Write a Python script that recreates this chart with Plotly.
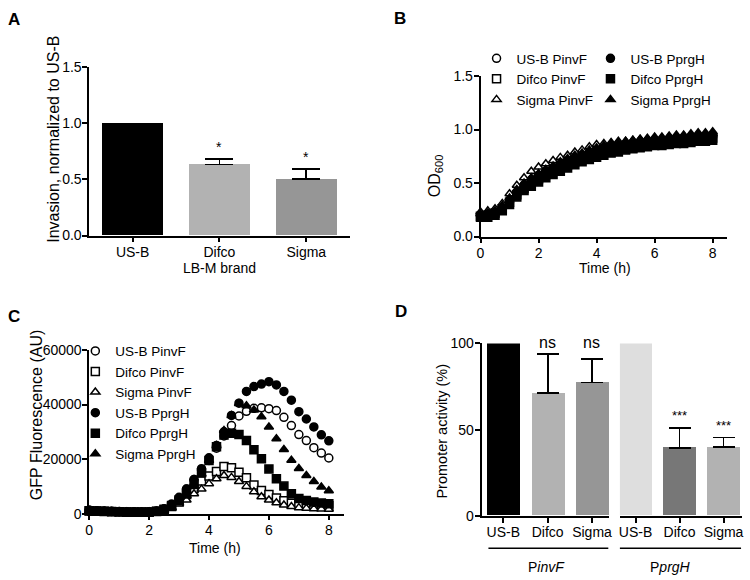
import plotly.graph_objects as go

W, H = 750, 580
FONT = "Liberation Sans, Arial, sans-serif"

# ---------------- Panel A data ----------------
a_categories = ["US-B", "Difco", "Sigma"]
a_values = [1.0, 0.633, 0.505]
a_err = [None, 0.047, 0.085]
a_sig = ["", "*", "*"]
a_colors = ["#000000", "#b2b2b2", "#969696"]

# ---------------- Time points (h) ----------------
time_h = [0, 0.25, 0.5, 0.75, 1, 1.25, 1.5, 1.75, 2, 2.25, 2.5, 2.75, 3, 3.25, 3.5, 3.75,
          4, 4.25, 4.5, 4.75, 5, 5.25, 5.5, 5.75, 6, 6.25, 6.5, 6.75, 7, 7.25, 7.5, 7.75, 8]

series_names = ["US-B PinvF", "Difco PinvF", "Sigma PinvF", "US-B PprgH", "Difco PprgH", "Sigma PprgH"]

# ---------------- Panel B data (OD600) ----------------
od_usb_pinvf = [0.20, 0.21, 0.23, 0.27, 0.34, 0.41, 0.48, 0.53, 0.57, 0.61, 0.64, 0.67, 0.70, 0.73, 0.75, 0.77,
                0.79, 0.81, 0.82, 0.83, 0.84, 0.85, 0.86, 0.87, 0.88, 0.88, 0.89, 0.89, 0.90, 0.91, 0.91, 0.92, 0.93]
od_difco_pinvf = [0.19, 0.20, 0.22, 0.26, 0.32, 0.39, 0.45, 0.50, 0.54, 0.58, 0.61, 0.64, 0.67, 0.70, 0.72, 0.75,
                  0.77, 0.79, 0.80, 0.81, 0.82, 0.83, 0.84, 0.85, 0.86, 0.87, 0.87, 0.88, 0.89, 0.89, 0.90, 0.91, 0.92]
od_sigma_pinvf = [0.23, 0.24, 0.26, 0.31, 0.40, 0.48, 0.55, 0.61, 0.65, 0.68, 0.71, 0.74, 0.76, 0.79, 0.81, 0.84,
                  0.86, 0.87, 0.88, 0.89, 0.89, 0.90, 0.91, 0.91, 0.92, 0.92, 0.93, 0.93, 0.94, 0.94, 0.95, 0.95, 0.96]
od_usb_pprgh = [0.20, 0.21, 0.22, 0.26, 0.32, 0.39, 0.46, 0.51, 0.55, 0.59, 0.62, 0.65, 0.68, 0.71, 0.74, 0.76,
                0.78, 0.80, 0.82, 0.83, 0.84, 0.86, 0.87, 0.88, 0.89, 0.90, 0.90, 0.91, 0.92, 0.93, 0.93, 0.94, 0.95]
od_difco_pprgh = [0.18, 0.18, 0.20, 0.24, 0.30, 0.37, 0.43, 0.47, 0.51, 0.55, 0.58, 0.61, 0.64, 0.67, 0.70, 0.72,
                  0.74, 0.76, 0.78, 0.79, 0.81, 0.82, 0.83, 0.84, 0.85, 0.85, 0.86, 0.87, 0.87, 0.88, 0.89, 0.89, 0.90]
od_sigma_pprgh = [0.21, 0.22, 0.24, 0.29, 0.36, 0.44, 0.50, 0.55, 0.59, 0.63, 0.66, 0.70, 0.73, 0.76, 0.78, 0.81,
                  0.83, 0.85, 0.87, 0.88, 0.89, 0.90, 0.91, 0.92, 0.93, 0.93, 0.94, 0.95, 0.95, 0.96, 0.97, 0.97, 0.98]

# ---------------- Panel C data (GFP fluorescence, AU) ----------------
gfp_usb_pinvf = [1200, 1000, 900, 800, 700, 650, 600, 600, 650, 900, 1600, 3200, 5500, 9000, 12500, 16000,
                 19500, 24000, 28500, 32300, 35800, 37500, 38600, 38800, 38500, 37800, 35300, 32300, 29000,
                 26800, 24200, 22200, 20400]
gfp_difco_pinvf = [1000, 900, 800, 700, 600, 550, 500, 500, 550, 800, 1400, 2600, 4500, 7000, 9200, 12000,
                   13800, 15500, 17300, 16800, 15200, 13200, 10500, 8500, 7000, 5700, 4700, 3800, 3400,
                   3300, 3200, 3100, 2900]
gfp_sigma_pinvf = [900, 800, 700, 650, 600, 500, 450, 450, 500, 700, 1100, 2000, 3500, 5000, 7300, 9000,
                   11000, 12800, 14000, 13300, 11800, 10000, 8000, 6200, 5000, 4000, 3200, 2600, 2200,
                   2000, 1800, 1700, 1600]
gfp_usb_pprgh = [1300, 1100, 1000, 900, 800, 700, 700, 650, 700, 1000, 1800, 3500, 6000, 9000, 12500, 16500,
                 20500, 25000, 30000, 36000, 40500, 44800, 46600, 47500, 48400, 47200, 44800, 41600, 37400,
                 34700, 31800, 28900, 26700]
gfp_difco_pprgh = [1100, 1000, 900, 800, 700, 650, 600, 600, 650, 900, 1600, 3000, 5000, 7500, 11000, 15000,
                   19500, 24500, 28800, 29500, 29000, 26800, 23400, 20100, 16400, 12800, 10100, 7300, 5600,
                   4800, 4300, 3900, 3600]
gfp_sigma_pprgh = [1000, 900, 800, 700, 650, 600, 550, 550, 600, 800, 1300, 2300, 4000, 6500, 10000, 14500,
                   19500, 25000, 30500, 36000, 40400, 39600, 38000, 35500, 31800, 27500, 23500, 19600, 16600,
                   14000, 11800, 9800, 8400]

# ---------------- Panel D data ----------------
d_categories = ["US-B", "Difco", "Sigma"]
d_pinvf_values = [100, 71.2, 77.4]
d_pinvf_err = [None, 22.6, 13.6]
d_pinvf_sig = ["", "ns", "ns"]
d_pinvf_colors = ["#000000", "#b2b2b2", "#969696"]
d_pprgh_values = [100, 39.5, 39.8]
d_pprgh_err = [None, 11.6, 5.7]
d_pprgh_sig = ["", "***", "***"]
d_pprgh_colors = ["#dedede", "#777777", "#b2b2b2"]

# marker styles per series (open = white fill)
styles = [
    dict(symbol="circle", color="white"),
    dict(symbol="square", color="white"),
    dict(symbol="triangle-up", color="white"),
    dict(symbol="circle", color="black"),
    dict(symbol="square", color="black"),
    dict(symbol="triangle-up", color="black"),
]


def px(x):
    """page pixel x -> paper fraction"""
    return x / W


def py(y):
    """page pixel y -> paper fraction"""
    return 1 - y / H


fig = go.Figure()


def add_bars(cats, vals, errs, colors, width, cap, xa, ya):
    idx0 = [i for i, e in enumerate(errs) if e is None]
    idx1 = [i for i, e in enumerate(errs) if e is not None]
    if idx0:
        fig.add_trace(go.Bar(
            x=[cats[i] for i in idx0], y=[vals[i] for i in idx0], width=width,
            marker=dict(color=[colors[i] for i in idx0], line=dict(width=0)),
            xaxis=xa, yaxis=ya, showlegend=False))
    if idx1:
        fig.add_trace(go.Bar(
            x=[cats[i] for i in idx1], y=[vals[i] for i in idx1], width=width,
            marker=dict(color=[colors[i] for i in idx1], line=dict(width=0)),
            error_y=dict(type="data", array=[errs[i] for i in idx1], arrayminus=[0] * len(idx1),
                         symmetric=False, color="black", thickness=1.8, width=cap),
            xaxis=xa, yaxis=ya, showlegend=False))


# ---- Panel A ----
add_bars(a_categories, a_values, a_err, a_colors, 0.7, 14, "x", "y")

# ---- Panel B ----
od_series = [od_usb_pinvf, od_difco_pinvf, od_sigma_pinvf, od_usb_pprgh, od_difco_pprgh, od_sigma_pprgh]
for i, (name, vals) in enumerate(zip(series_names, od_series)):
    st = styles[i]
    fig.add_trace(go.Scatter(
        x=time_h, y=vals, mode="markers", name=name, cliponaxis=False,
        marker=dict(symbol=st["symbol"], size=8, color=st["color"], line=dict(color="black", width=1.5)),
        xaxis="x2", yaxis="y2", legend="legend" if i < 3 else "legend2"))

# ---- Panel C ----
gfp_series = [gfp_usb_pinvf, gfp_difco_pinvf, gfp_sigma_pinvf, gfp_usb_pprgh, gfp_difco_pprgh, gfp_sigma_pprgh]
for i, (name, vals) in enumerate(zip(series_names, gfp_series)):
    st = styles[i]
    fig.add_trace(go.Scatter(
        x=time_h, y=vals, mode="markers", name=name, cliponaxis=False,
        marker=dict(symbol=st["symbol"], size=8, color=st["color"], line=dict(color="black", width=1.5)),
        xaxis="x3", yaxis="y3", legend="legend3"))

# ---- Panel D ----
add_bars(d_categories, d_pinvf_values, d_pinvf_err, d_pinvf_colors, 0.74, 11, "x4", "y4")
add_bars(d_categories, d_pprgh_values, d_pprgh_err, d_pprgh_colors, 0.74, 11, "x5", "y4")

axis_common = dict(showline=True, linecolor="black", linewidth=1.6, ticks="outside", ticklen=5,
                   tickwidth=1.6, tickcolor="black", showgrid=False, zeroline=False,
                   tickfont=dict(size=14, color="black", family=FONT))
xax = dict(axis_common, ticklabelstandoff=-2)
yax = dict(axis_common, ticklabelstandoff=-2)

LEG_FS = 13.5
fig.update_layout(
    width=W, height=H, margin=dict(l=0, r=0, t=0, b=0),
    paper_bgcolor="white", plot_bgcolor="white",
    font=dict(family=FONT, size=14, color="black"),
    bargap=0, barmode="overlay",
    xaxis=dict(xax, domain=[px(86), px(349)], type="category", range=[-0.5, 2.5], anchor="y"),
    yaxis=dict(yax, domain=[py(234), py(61)], range=[0, 1.5], tickvals=[0, 0.5, 1.0, 1.5],
               tickformat=".1f", anchor="x"),
    xaxis2=dict(xax, domain=[px(481), px(730)], range=[0, 8.5], tickvals=[0, 2, 4, 6, 8], anchor="y2"),
    yaxis2=dict(yax, domain=[py(235), py(70)], range=[0, 1.5], tickvals=[0, 0.5, 1.0, 1.5],
                tickformat=".1f", anchor="x2"),
    xaxis3=dict(xax, domain=[px(86), px(343)], range=[0, 8.5], tickvals=[0, 2, 4, 6, 8], anchor="y3"),
    yaxis3=dict(yax, domain=[py(520), py(351.7)], range=[0, 60000],
                tickvals=[0, 20000, 40000, 60000], tickformat="d", anchor="x3"),
    xaxis4=dict(xax, domain=[px(482), px(611)], type="category", range=[-0.49, 2.39], anchor="y4"),
    xaxis5=dict(xax, domain=[px(621.7), px(745)], type="category", range=[-0.355, 2.42], anchor="y4"),
    yaxis4=dict(yax, domain=[py(522.3), py(345)], range=[0, 100], tickvals=[0, 50, 100], anchor="x4"),
    legend=dict(x=px(477), y=py(36), xanchor="left", yanchor="top", bgcolor="rgba(0,0,0,0)",
                font=dict(size=LEG_FS, family=FONT), borderwidth=0),
    legend2=dict(x=px(592), y=py(36), xanchor="left", yanchor="top", bgcolor="rgba(0,0,0,0)",
                 font=dict(size=LEG_FS, family=FONT), borderwidth=0),
    legend3=dict(x=px(72), y=py(337), xanchor="left", yanchor="top", bgcolor="rgba(0,0,0,0)",
                 font=dict(size=LEG_FS, family=FONT), borderwidth=0),
)

ann = []
# Panel letters
for letter, (lx, ly) in {"A": (10, 12), "B": (400, 11), "C": (10, 317), "D": (401, 312)}.items():
    ann.append(dict(text=f"<b>{letter}</b>", x=px(lx), y=py(ly), xref="paper", yref="paper",
                    showarrow=False, font=dict(size=17, family=FONT), xanchor="center", yanchor="middle"))

# Axis titles
titles = [
    ("Invasion, normalized to US-B", 50, 135, -90, 16),
    ("LB-M brand", 217.5, 267, 0, 14),
    ("OD<sub>600</sub>", 435, 172, -90, 16),
    ("Time (h)", 606.7, 267, 0, 14),
    ("GFP Fluorescence (AU)", 33, 419, -90, 16),
    ("Time (h)", 213, 555, 0, 14),
    ("Promoter activity (%)", 441.7, 435, -90, 14.5),
    ("P<i>invF</i>", 548, 575, 0, 14),
    ("P<i>prgH</i>", 673, 575, 0, 14),
]
for t, tx, ty, ang, fs in titles:
    ann.append(dict(text=t, x=px(tx), y=py(ty), xref="paper", yref="paper", showarrow=False,
                    textangle=ang, font=dict(size=fs, family=FONT), xanchor="center", yanchor="middle"))

# Significance marks
for cat, v, e, s in zip(a_categories, a_values, a_err, a_sig):
    if s:
        ann.append(dict(text=s, x=cat, y=v + e, xref="x", yref="y", showarrow=False, yanchor="middle",
                        yshift=12, font=dict(size=14, family=FONT)))
# "ns" marks sit level with the tallest bar of the PinvF group
ns_level = max(d_pinvf_values)
for cat, s in zip(d_categories, d_pinvf_sig):
    if s:
        ann.append(dict(text=s, x=cat, y=ns_level, xref="x4", yref="y4", showarrow=False, yanchor="middle",
                        yshift=1, font=dict(size=16, family=FONT)))
for cat, v, e, s in zip(d_categories, d_pprgh_values, d_pprgh_err, d_pprgh_sig):
    if s:
        ann.append(dict(text=s, x=cat, y=v + e, xref="x5", yref="y4", showarrow=False, yanchor="middle",
                        yshift=12, font=dict(size=13, family=FONT)))
fig.update_layout(annotations=ann)

# Group lines under panel D
shapes = [
    dict(type="line", xref="paper", yref="paper", x0=px(489), x1=px(610), y0=py(555.7), y1=py(555.7),
         line=dict(color="black", width=1.5)),
    dict(type="line", xref="paper", yref="paper", x0=px(621.7), x1=px(744), y0=py(555.7), y1=py(555.7),
         line=dict(color="black", width=1.5)),
]
fig.update_layout(shapes=shapes)

# remove the browser's default 8px body margin so the figure fills the window exactly
fig.write_html("out.html", config={"displayModeBar": False},
               post_script="document.body.style.margin='0px';")
